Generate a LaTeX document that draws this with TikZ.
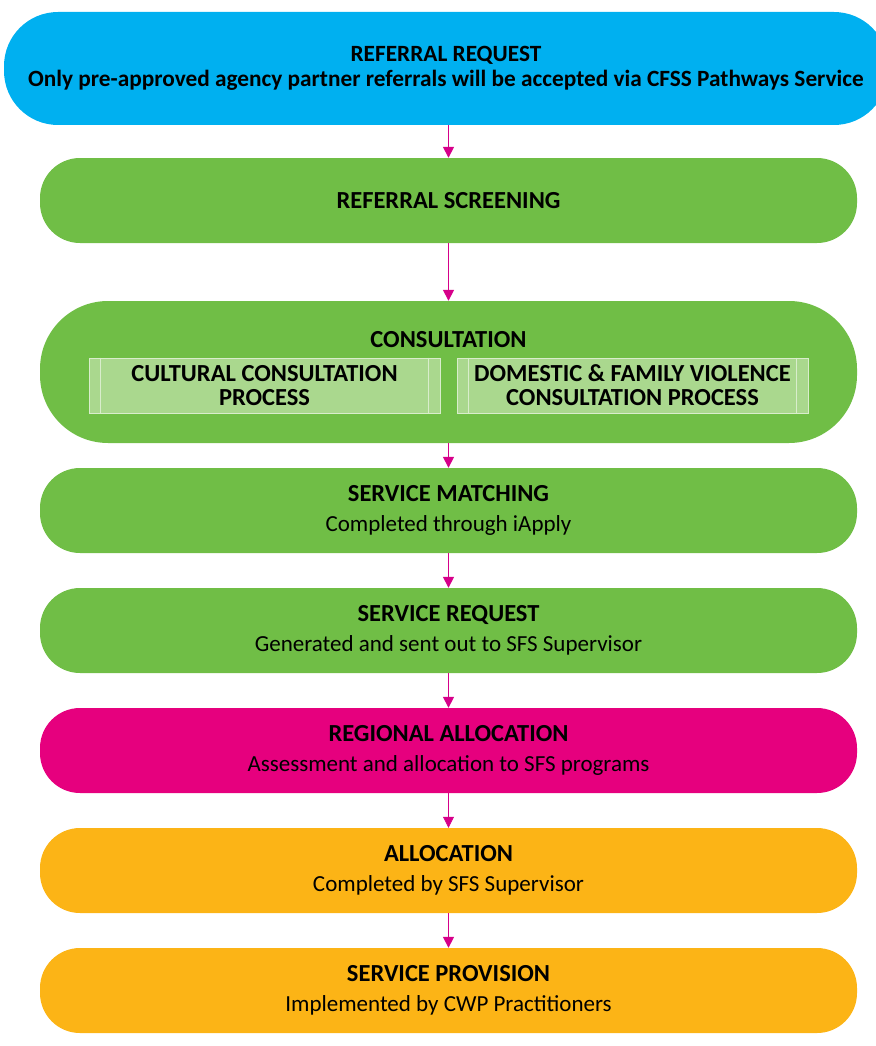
\documentclass[tikz,border=0pt]{standalone}
\usepackage{fontspec}
\setmainfont{Carlito}
\usepackage{tikz}
\usetikzlibrary{arrows.meta, positioning, shapes.geometric, calc}

\definecolor{reqblue}{RGB}{0,176,240}
\definecolor{stepgreen}{RGB}{112,190,70}
\definecolor{lightgreen}{RGB}{170,216,142}
\definecolor{regpink}{RGB}{230,0,126}
\definecolor{allocorange}{RGB}{252,180,22}
\definecolor{arrowpink}{RGB}{214,0,138}

\tikzset{
    flowbox/.style={rectangle, rounded corners=40pt, minimum width=817pt, minimum height=85pt,
        align=center, inner sep=0pt, text=black, font=\fontsize{23}{30}\selectfont},
    procbox/.style={rectangle, draw=white!55!lightgreen, line width=0.8pt, fill=lightgreen,
        minimum width=351pt, minimum height=55pt, align=center, inner sep=0pt,
        font=\bfseries\fontsize{24.5}{24}\selectfont},
    procline/.style={draw=white!55!lightgreen, line width=0.8pt},
    flowarrow/.style={draw=arrowpink, line width=1.6pt, -{Triangle[width=11pt,length=11pt]}}
}
\newcommand{\boxtitle}[1]{{\bfseries\fontsize{24.5}{30}\selectfont #1}}

\begin{document}
\begin{tikzpicture}[x=1pt,y=-1pt]
            \useasboundingbox (0,0) rectangle (875,1046);

            % Referral request
            \node[flowbox, fill=reqblue, rounded corners=54pt, minimum width=884pt, minimum height=113pt,
                font=\bfseries\fontsize{23.3}{25.5}\selectfont]
                (req) at (446,68.5) {REFERRAL REQUEST\\
                Only pre-approved agency partner referrals will be accepted via CFSS Pathways Service};

            % Screening
            \node[flowbox, fill=stepgreen] (screen) at (448.5,200.5) {\boxtitle{REFERRAL SCREENING}};

            % Consultation
            \node[flowbox, fill=stepgreen, rounded corners=68pt, minimum height=142pt] (consult) at (448.5,372) {};
            \node[font=\bfseries\fontsize{24.5}{24}\selectfont] (consulttitle) at (448.5,340) {CONSULTATION};
            \node[procbox] (cultural) at (264.5,385.5) {CULTURAL CONSULTATION\\PROCESS};
            \draw[procline] ([xshift=12pt]cultural.north west) -- ([xshift=12pt]cultural.south west);
            \draw[procline] ([xshift=-12pt]cultural.north east) -- ([xshift=-12pt]cultural.south east);
            \node[procbox] (dfv) at (632.5,385.5) {DOMESTIC \& FAMILY VIOLENCE\\CONSULTATION PROCESS};
            \draw[procline] ([xshift=12pt]dfv.north west) -- ([xshift=12pt]dfv.south west);
            \draw[procline] ([xshift=-12pt]dfv.north east) -- ([xshift=-12pt]dfv.south east);

            % Matching and request
            \node[flowbox, fill=stepgreen] (match) at (448.5,510.5)
                {\boxtitle{SERVICE MATCHING}\\Completed through iApply};
            \node[flowbox, fill=stepgreen] (servreq) at (448.5,630.5)
                {\boxtitle{SERVICE REQUEST}\\Generated and sent out to SFS Supervisor};

            % Regional allocation
            \node[flowbox, fill=regpink] (regional) at (448.5,750.5)
                {\boxtitle{REGIONAL ALLOCATION}\\Assessment and allocation to SFS programs};

            % Allocation and provision
            \node[flowbox, fill=allocorange] (alloc) at (448.5,870.5)
                {\boxtitle{ALLOCATION}\\Completed by SFS Supervisor};
            \node[flowbox, fill=allocorange] (provision) at (448.5,990.5)
                {\boxtitle{SERVICE PROVISION}\\Implemented by CWP Practitioners};

            % Arrows
            \draw[flowarrow] (req.south -| screen.north) -- (screen.north);
            \draw[flowarrow] (screen) -- (consult.north);
            \draw[flowarrow] (consult) -- (match.north);
            \draw[flowarrow] (match) -- (servreq.north);
            \draw[flowarrow] (servreq) -- (regional.north);
            \draw[flowarrow, line width=0.6pt] (regional) -- (alloc.north);
            \draw[flowarrow] (alloc) -- (provision.north);
        \end{tikzpicture}
\end{document}
